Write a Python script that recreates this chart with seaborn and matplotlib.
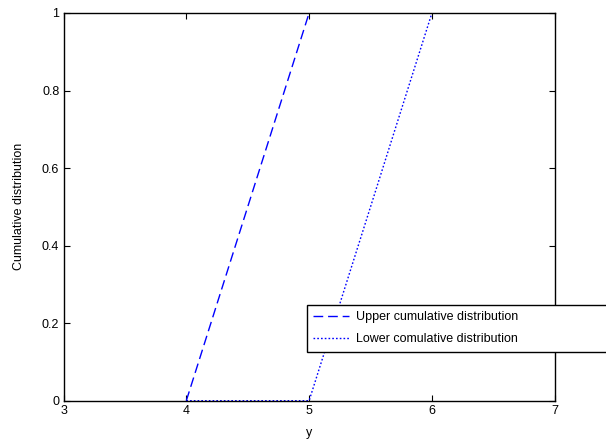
import pandas as pd
import matplotlib
matplotlib.use("Agg")
import matplotlib.pyplot as plt
import seaborn as sns

# Datos de las curvas
y_vals = [4, 5, 6]
upper_cdf = [0, 1, 1]
lower_cdf = [0, 0, 1]
labels = ['Upper cumulative distribution', 'Lower comulative distribution']

df = pd.concat([
    pd.DataFrame({'y': y_vals, 'F': upper_cdf, 'curva': labels[0]}),
    pd.DataFrame({'y': y_vals, 'F': lower_cdf, 'curva': labels[1]}),
], ignore_index=True)

sns.set_style('ticks')
plt.rcParams['font.family'] = ['Liberation Sans', 'DejaVu Sans']
plt.rcParams['xtick.direction'] = 'in'
plt.rcParams['ytick.direction'] = 'in'
plt.rcParams['text.color'] = 'black'
plt.rcParams['axes.labelcolor'] = 'black'
plt.rcParams['xtick.color'] = 'black'
plt.rcParams['ytick.color'] = 'black'

fig = plt.figure(figsize=(6.06, 4.43), dpi=100)
ax = fig.add_axes([0.1048, 0.0955, 0.8106, 0.8752])

sns.lineplot(data=df, x='y', y='F', hue='curva', style='curva',
             palette=['#0000ff', '#0000ff'],
             dashes={labels[0]: (7, 3.5), labels[1]: (1.2, 1.5)},
             linewidth=1, ax=ax, legend=False)

ax.set_xlim(3, 7)
ax.set_ylim(0, 1)
ax.set_xticks([3, 4, 5, 6, 7])
ax.set_yticks([0, 0.2, 0.4, 0.6, 0.8, 1])
ax.set_xticklabels(['3', '4', '5', '6', '7'])
ax.set_yticklabels(['0', '0.2', '0.4', '0.6', '0.8', '1'])
ax.tick_params(labelsize=9, length=4, width=0.8, top=True, right=True, pad=3)
ax.set_xlabel('y', fontsize=9, labelpad=7)
ax.set_ylabel('Cumulative distribution', fontsize=9, labelpad=12)
for s in ax.spines.values():
    s.set_linewidth(1)
    s.set_color('black')

# Leyenda fuera del eje, cortada a la derecha como en el original
handles = ax.get_lines()[:2]
leg = fig.legend(handles, labels, loc='lower left',
                 bbox_to_anchor=(0.5066, 0.206, 0.6, 0.1055), mode='expand',
                 fontsize=9, fancybox=False, framealpha=1, edgecolor='black',
                 borderpad=0.5, borderaxespad=0, handlelength=2.9,
                 handletextpad=0.5, labelspacing=0.82)
leg.get_frame().set_linewidth(1)
leg._legend_box.align = 'left'
for t in leg.get_texts():
    t.set_color('black')

fig.savefig('out.png', dpi=100)
